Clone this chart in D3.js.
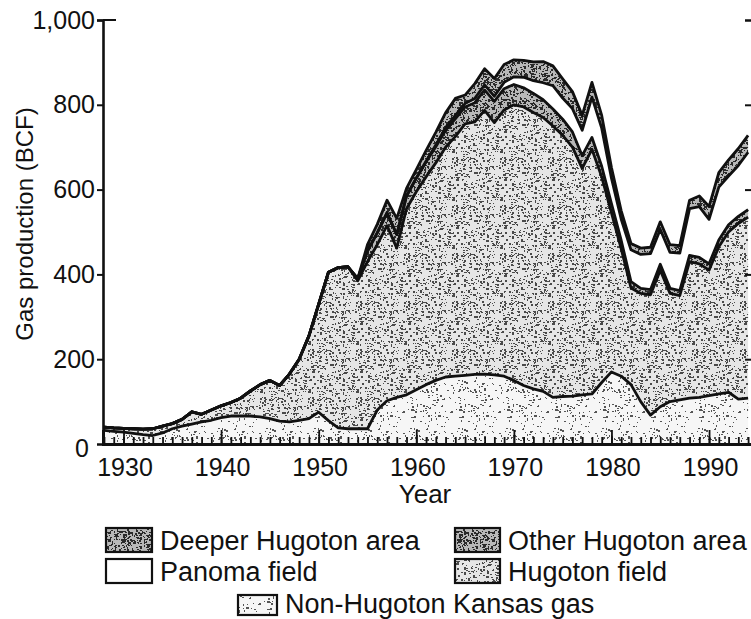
<!DOCTYPE html>
<html>
<head>
<meta charset="utf-8">
<script src="https://cdn.jsdelivr.net/npm/d3@7/dist/d3.min.js"></script>
<style>
  body { margin: 0; background: #fff; }
  svg { display: block; }
  text { font-family: "Liberation Sans", Arial, Helvetica, sans-serif; fill: #111; }
</style>
</head>
<body>
<svg id="chart"></svg>
<script>
// Kansas gas production, BCF per year, 1928-1994
const firstYear = 1928;
const lastYear = 1994;

const nonHugoton = [
  32, 30, 28, 25, 22, 20, 26, 36, 42, 47,        // 1928-1937
  52, 56, 62, 66, 66, 66, 64, 60, 54, 52,        // 1938-1947
  56, 60, 75, 55, 38, 36, 36, 36, 80, 102,       // 1948-1957
  110, 116, 128, 140, 150, 158, 160, 162, 164, 165,
  163, 160, 150, 138, 130, 124, 110, 112, 113, 116,
  118, 145, 170, 160, 140, 100, 68, 88, 100, 104,
  108, 110, 114, 118, 122, 106, 108
];
const hugoton = [
  8, 8, 9, 11, 13, 16, 16, 12, 16, 29,
  18, 24, 28, 32, 42, 59, 76, 90, 84, 113,
  144, 195, 255, 350, 378, 382, 349, 394, 390, 413,
  352, 439, 467, 490, 513, 542, 565, 593, 596, 622,
  595, 628, 650, 657, 652, 646, 640, 616, 587, 534,
  577, 485, 375, 300, 228, 255, 284, 322, 255, 246,
  322, 315, 296, 347, 378, 414, 427
];
const otherHugoton = [
  0, 0, 0, 0, 0, 0, 0, 0, 0, 0,
  0, 0, 0, 0, 0, 0, 0, 0, 0, 0,
  0, 0, 0, 0, 0, 0, 5, 25, 28, 30,
  32, 30, 32, 35, 38, 40, 42, 40, 45, 48,
  50, 50, 48, 45, 45, 42, 40, 38, 36, 30,
  28, 25, 22, 20, 15, 12, 12, 14, 12, 12,
  15, 15, 15, 16, 17, 17, 18
];
const panoma = [
  0, 0, 0, 0, 0, 0, 0, 0, 0, 0,
  0, 0, 0, 0, 0, 0, 0, 0, 0, 0,
  0, 0, 0, 0, 0, 0, 0, 0, 0, 0,
  0, 0, 0, 2, 4, 6, 8, 8, 10, 12,
  12, 15, 18, 25, 30, 40, 55, 50, 55, 60,
  95, 90, 60, 50, 75, 80, 85, 82, 85, 88,
  110, 120, 105, 125, 115, 120, 135
];
const deeperHugoton = [
  0, 0, 0, 0, 0, 0, 0, 0, 0, 0,
  0, 0, 0, 0, 0, 0, 0, 0, 0, 0,
  0, 0, 0, 0, 0, 0, 0, 15, 20, 30,
  38, 18, 20, 25, 30, 35, 40, 20, 35, 38,
  42, 42, 40, 40, 44, 50, 47, 45, 40, 35,
  35, 30, 25, 20, 15, 15, 15, 18, 18, 18,
  20, 25, 30, 34, 38, 40, 40
];

const decadeLabels = [1930, 1940, 1950, 1960, 1970, 1980, 1990];
const yTicks = [0, 200, 400, 600, 800, 1000];

// stacking order, bottom to top
const seriesKeys = ["nonHugoton", "hugoton", "otherHugoton", "panoma", "deeperHugoton"];
const seriesValues = { nonHugoton, hugoton, otherHugoton, panoma, deeperHugoton };
const fillFor = {
  nonHugoton: "url(#dotsLight)",
  hugoton: "url(#stippleMid)",
  otherHugoton: "url(#stippleDark)",
  panoma: "#fff",
  deeperHugoton: "url(#stippleDark)"
};

const years = d3.range(firstYear, lastYear + 1);
const table = years.map((yr, i) => {
  const row = { year: yr };
  seriesKeys.forEach(k => { row[k] = seriesValues[k][i]; });
  return row;
});

const W = 751, H = 619;
const svg = d3.select("#chart").attr("width", W).attr("height", H);

const x = d3.scaleLinear().domain([1927.9, 1994.4]).range([103, 752]);
const y = d3.scaleLinear().domain([0, 1000]).range([444, 20]);

// stipple textures (fixed pseudo-random sequence, only for the look of the fill)
const defs = svg.append("defs");
function stipple(id, bg, count, seed, dark) {
  const size = 48;
  const p = defs.append("pattern").attr("id", id)
    .attr("patternUnits", "userSpaceOnUse").attr("width", size).attr("height", size);
  p.append("rect").attr("width", size).attr("height", size).attr("fill", bg);
  let s = seed;
  const next = () => { s = (s * 1103515245 + 12345) % 2147483648; return s / 2147483648; };
  for (let i = 0; i < count; i++) {
    p.append("rect")
      .attr("x", Math.floor(next() * size))
      .attr("y", Math.floor(next() * size))
      .attr("width", next() < 0.5 ? 2 : 1)
      .attr("height", next() < 0.3 ? 2 : 1)
      .attr("fill", dark);
  }
}
stipple("dotsLight", "#f6f6f6", 120, 7, "#555");
stipple("stippleMid", "#e6e6e6", 280, 11, "#4a4a4a");
stipple("stippleDark", "#b8b8b8", 520, 23, "#2a2a2a");

const stack = d3.stack().keys(seriesKeys);
const layers = stack(table);

const area = d3.area()
  .x(d => x(d.data.year))
  .y0(d => y(d[0]))
  .y1(d => y(d[1]));

const edge = d3.line()
  .x(d => x(d.data.year))
  .y(d => y(d[1]));

svg.append("g").selectAll("path")
  .data(layers)
  .join("path")
  .attr("d", area)
  .attr("fill", d => fillFor[d.key]);

svg.append("g").selectAll("path")
  .data(layers)
  .join("path")
  .attr("d", edge)
  .attr("fill", "none")
  .attr("stroke", "#111")
  .attr("stroke-width", 2.8)
  .attr("stroke-linejoin", "round");

// x axis: yearly ticks pointing up into the plot
const xMinor = svg.append("g").attr("transform", "translate(0,444)")
  .call(d3.axisTop(x).tickValues(years).tickSize(7).tickFormat(""));
const xMajor = svg.append("g").attr("transform", "translate(0,444)")
  .call(d3.axisTop(x).tickValues(decadeLabels).tickSize(14).tickFormat(""));
[xMinor, xMajor].forEach(g => {
  g.select(".domain").attr("stroke", "#111").attr("stroke-width", 3);
  g.selectAll(".tick line").attr("stroke", "#111").attr("stroke-width", 1.8);
});

const xLabels = svg.append("g").attr("transform", "translate(1,444)")
  .call(d3.axisBottom(x).tickValues(decadeLabels).tickSize(0).tickPadding(14).tickFormat(d3.format("d")));
xLabels.select(".domain").remove();
xLabels.selectAll("text").attr("font-size", 25).attr("fill", "#111")
  .attr("font-family", "'Liberation Sans', Arial, sans-serif");

// y axis
const yAxis = svg.append("g").attr("transform", "translate(103,0)")
  .call(d3.axisLeft(y).tickValues(yTicks).tickSize(6).tickPadding(2).tickFormat(d3.format(",")));
yAxis.select(".domain").attr("stroke", "#111").attr("stroke-width", 2.6);
yAxis.selectAll(".tick line").attr("stroke", "#111").attr("stroke-width", 2);
yAxis.selectAll("text").attr("font-size", 25).attr("fill", "#111")
  .attr("font-family", "'Liberation Sans', Arial, sans-serif");
yAxis.selectAll(".tick").filter(d => d === 0).select("text").attr("dx", -6).attr("dy", "0.5em");
yAxis.selectAll(".tick").filter(d => d === 0).select("line").remove();
// short stub into the plot at the top tick
svg.append("line").attr("x1", 103).attr("x2", 116).attr("y1", y(1000)).attr("y2", y(1000))
  .attr("stroke", "#111").attr("stroke-width", 2);

// right axis (line sits just outside the cropped picture)
const yRight = svg.append("g").attr("transform", "translate(753,0)")
  .call(d3.axisLeft(y).tickValues(yTicks.slice(1)).tickSize(8).tickFormat(""));
yRight.select(".domain").attr("stroke", "#111").attr("stroke-width", 2);
yRight.selectAll(".tick line").attr("stroke", "#111").attr("stroke-width", 2);

// axis titles
svg.append("text").attr("x", 425).attr("y", 503).attr("text-anchor", "middle")
  .attr("font-size", 26).text("Year");
svg.append("text").attr("transform", "translate(33,224) rotate(-90)")
  .attr("text-anchor", "middle").attr("font-size", 24).text("Gas production (BCF)");

// legend
const legendItems = [
  { key: "deeperHugoton", label: "Deeper Hugoton area", x: 106, y: 528, w: 46, h: 24 },
  { key: "otherHugoton", label: "Other Hugoton area", x: 455, y: 528, w: 45, h: 24 },
  { key: "panoma", label: "Panoma field", x: 106, y: 559, w: 46, h: 24 },
  { key: "hugoton", label: "Hugoton field", x: 455, y: 559, w: 45, h: 24 },
  { key: "nonHugoton", label: "Non-Hugoton Kansas gas", x: 238, y: 595, w: 39, h: 20 }
];
const legend = svg.append("g").selectAll("g").data(legendItems).join("g");
legend.append("rect")
  .attr("x", d => d.x).attr("y", d => d.y)
  .attr("width", d => d.w).attr("height", d => d.h)
  .attr("fill", d => fillFor[d.key])
  .attr("stroke", "#111").attr("stroke-width", 2.2);
legend.append("text")
  .attr("x", d => d.x + d.w + 8)
  .attr("y", d => d.y + d.h - 2)
  .attr("font-size", 27)
  .text(d => d.label);
</script>
</body>
</html>
